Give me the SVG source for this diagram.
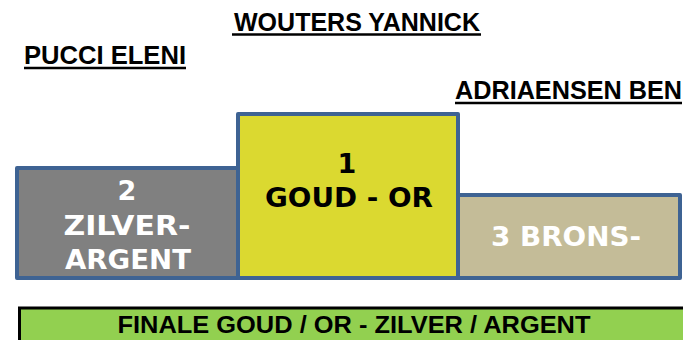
<svg xmlns="http://www.w3.org/2000/svg" width="683" height="340" viewBox="0 0 683 340">
<style>
.name{font-family:"Liberation Sans",Arial,sans-serif;font-weight:bold;font-size:25px;fill:#000}
.box{stroke:#3e6393;stroke-width:4;stroke-linejoin:round}
.lbl{font-family:"DejaVu Sans",Verdana,sans-serif;font-weight:bold;font-size:27px;text-anchor:middle}
.bar{font-family:"Liberation Sans",Arial,sans-serif;font-weight:bold;font-size:24px;text-anchor:middle}
</style>
<rect width="683" height="340" fill="#fff"/>
<g id="names">
<text class="name" x="234" y="31" textLength="246" lengthAdjust="spacingAndGlyphs">WOUTERS YANNICK</text>
<line x1="232" y1="34.5" x2="481" y2="34.5" stroke="#000" stroke-width="2.5"/>
<text class="name" x="24" y="64" textLength="162" lengthAdjust="spacingAndGlyphs">PUCCI ELENI</text>
<line x1="24" y1="68" x2="186" y2="68" stroke="#000" stroke-width="2.5"/>
<text class="name" x="455" y="99" textLength="227" lengthAdjust="spacingAndGlyphs">ADRIAENSEN BEN</text>
<line x1="455" y1="103" x2="682" y2="103" stroke="#000" stroke-width="2.5"/>
</g>
<g id="silver">
<rect class="box" x="17" y="168" width="221" height="110" fill="#808080"/>
<text class="lbl" x="127" y="200" fill="#fff">2</text>
<text class="lbl" x="127" y="235" fill="#fff" textLength="127" lengthAdjust="spacingAndGlyphs">ZILVER-</text>
<text class="lbl" x="128" y="269" fill="#fff" textLength="126" lengthAdjust="spacingAndGlyphs">ARGENT</text>
</g>
<g id="gold">
<rect class="box" x="238" y="114" width="220" height="164" fill="#dbd930"/>
<text class="lbl" x="347" y="173" fill="#000">1</text>
<text class="lbl" x="349" y="207" fill="#000" textLength="168" lengthAdjust="spacingAndGlyphs">GOUD - OR</text>
</g>
<g id="bronze">
<rect class="box" x="458" y="195" width="222" height="83" fill="#c4bc98"/>
<text class="lbl" x="566" y="246" fill="#fff" textLength="150" lengthAdjust="spacingAndGlyphs">3 BRONS-</text>
</g>
<g id="banner">
<rect x="18" y="307" width="667" height="35" fill="#92d050"/>
<line x1="18" y1="308" x2="683" y2="308" stroke="#000" stroke-width="3"/>
<line x1="19.5" y1="307" x2="19.5" y2="340" stroke="#000" stroke-width="3"/>
<text class="bar" x="354" y="333" textLength="473" lengthAdjust="spacingAndGlyphs">FINALE GOUD / OR - ZILVER / ARGENT</text>
</g>
</svg>
